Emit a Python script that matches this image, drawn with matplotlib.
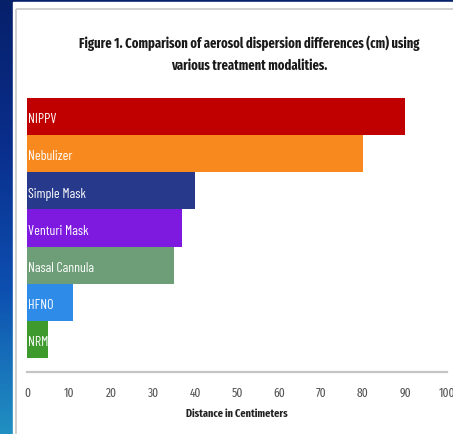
import matplotlib.pyplot as plt
import numpy as np
from matplotlib.colors import LinearSegmentedColormap
from matplotlib.patches import Rectangle

# data (top to bottom as drawn)
modalities = ['NIPPV', 'Nebulizer', 'Simple Mask', 'Venturi Mask',
              'Nasal Cannula', 'HFNO', 'NRM']
distances = [90, 80, 40, 37, 35, 11, 5]
bar_colors = ['#C00000', '#F7891F', '#27398A', '#7E1AE0',
              '#6E9E78', '#2F8BE8', '#3E9A2C']
xticks = list(range(0, 101, 10))

cond = ['Fira Sans Extra Condensed', 'DejaVu Sans']
narrow = ['Barlow Condensed', 'DejaVu Sans']
W, H = 453, 435
fig = plt.figure(figsize=(W / 100, H / 100), dpi=100)

# slide background: blue gradient
bg = fig.add_axes([0, 0, 1, 1], zorder=-10)
cmap = LinearSegmentedColormap.from_list('slide', ['#06206A', '#0A2E8C', '#0D4FB0', '#2190C2'])
grad = np.linspace(0, 1, 256).reshape(-1, 1)
bg.imshow(grad, aspect='auto', cmap=cmap, extent=[0, W, H, 0])
bg.add_patch(Rectangle((13, 3), W, H, color='white'))
bg.add_patch(Rectangle((15.5, 9.5), W, H, fill=False, edgecolor='#C8C8C8', linewidth=1.2))
bg.set_xlim(0, W)
bg.set_ylim(H, 0)
bg.axis('off')

# chart
ax = fig.add_axes([27 / W, 1 - 373 / H, 420 / W, (373 - 99) / H])
ax.patch.set_alpha(0)
ypos = np.arange(len(modalities))[::-1]
ax.barh(ypos, distances, height=1.0, color=bar_colors)
for y, name in zip(ypos, modalities):
    ax.text(0.3, y - 0.06, name, color='white', fontsize=10, va='center', ha='left',
            family=narrow)

ax.set_xlim(0, 100)
ax.set_ylim(-0.88, 6.5)
ax.set_yticks([])
ax.set_xticks(xticks)
ax.set_xticklabels([str(t) for t in xticks], family=cond, fontsize=9, color='#555555')
ax.tick_params(axis='x', length=0, pad=10)
for s in ['top', 'right', 'left']:
    ax.spines[s].set_visible(False)
ax.spines['bottom'].set_color('#C4C4C4')
ax.spines['bottom'].set_linewidth(1.6)
ax.set_xlabel('Distance in Centimeters', fontsize=8, fontweight='bold', family=cond,
              color='#222222', labelpad=7)

fig.text(249 / W, 1 - 43 / H, 'Figure 1. Comparison of aerosol dispersion differences (cm) using',
         ha='center', va='center', fontsize=9.8, fontweight='bold', family=cond, color='#1A1A1A')
fig.text(249 / W, 1 - 66 / H, 'various treatment modalities.',
         ha='center', va='center', fontsize=9.8, fontweight='bold', family=cond, color='#1A1A1A')

fig.savefig('out.png', dpi=100)
